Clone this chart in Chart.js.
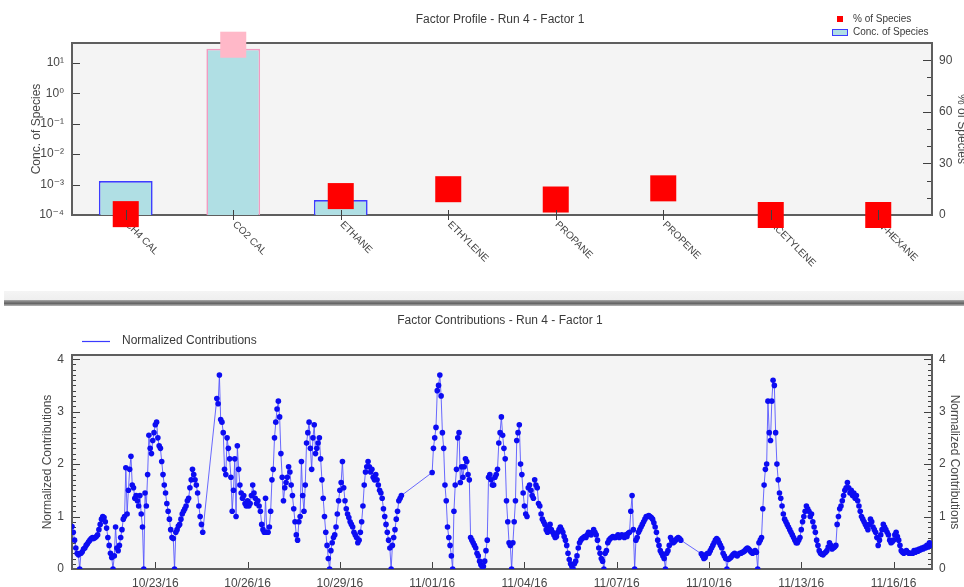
<!DOCTYPE html>
<html>
<head>
<meta charset="utf-8">
<title>Factor Profile / Factor Contributions - Run 4 - Factor 1</title>
<script src="https://cdn.jsdelivr.net/npm/chart.js@4.4.1/dist/chart.umd.min.js"></script>
<style>
  html, body { margin: 0; padding: 0; background: #fff; overflow: hidden; }
  #page { position: relative; width: 964px; height: 587px; overflow: hidden; }
  canvas { position: absolute; left: 0; }
  #profile { top: 0; }
  #contrib { top: 306px; }
  #divider {
    position: absolute; left: 4px; right: 0; top: 291px; height: 15px;
    background: linear-gradient(#f4f4f4 0px, #efefef 9px, #a9a9a9 9px, #7b7b7b 11px,
                                #666 12.5px, #8a8a8a 13.5px, #b8b8b8 15px);
  }
</style>
</head>
<body>
<div id="page">
  <canvas id="profile" width="964" height="290"></canvas>
  <div id="divider"></div>
  <canvas id="contrib" width="964" height="281"></canvas>
</div>
<script>
// ---------------- Factor profile (species) ----------------
const species = ['CH4 CAL', 'CO2 CAL', 'ETHANE', 'ETHYLENE', 'PROPANE', 'PROPENE', 'ACETYLENE', 'N-HEXANE'];
// concentration of each species in the factor (log axis, 1e-4 .. ~45)
const concOfSpecies = [1.3e-3, 29, 3.1e-4, 4e-5, 3e-5, 5e-5, 1e-5, 1e-5];
// share of each species' total mass apportioned to this factor (%)
const pctOfSpecies = [0.5, 99, 11, 15, 9, 15.5, 0, 0];
const concTicks = [1e-4, 1e-3, 1e-2, 1e-1, 1, 10];
const pctTicks = [0, 30, 60, 90];
const pctMinorTicks = [10, 20, 40, 50, 70, 80];

// ---------------- Factor contributions (time series) ----------------
// hourly samples; x = hours after 10/20/16 00:00, runs separated by data gaps
const sampleStepHours = 1;
const runStartHours = [7, 120, 288, 498];
const run1 = [0.81, 0.7, 0.55, 0.4, 0.3, 0.27, 0, 0.3, 0.33, 0.38,
              0.4, 0.45, 0.48, 0.52, 0.55, 0.58, 0.6, 0.58, 0.6, 0.62,
              0.65, 0.75, 0.85, 0.95, 1.0, 0.98, 0.9, 0.78, 0.6, 0.45,
              0.3, 0.22, 0, 0.25, 0.8, 0.4, 0.35, 0.45, 0.6, 0.75,
              0.95, 1.0, 1.93, 1.05, 1.5, 1.9, 2.15, 1.6, 1.55, 1.35,
              1.4, 1.3, 1.2, 1.4, 1.05, 0.8, 0, 1.45, 1.2, 1.8,
              2.55, 2.3, 2.2, 2.45, 2.6, 2.75, 2.8, 2.5, 2.35, 2.3,
              2.05, 1.8, 1.6, 1.45, 1.25, 1.1, 0.95, 0.75, 0.6, 0.58,
              0, 0.7, 0.75, 0.82, 0.85, 0.95, 1.05, 1.1, 1.15, 1.2,
              1.3, 1.35, 1.55, 1.7, 1.9, 1.8, 1.7, 1.6, 1.45, 1.2,
              1.0, 0.85, 0.7];
const run2 = [3.25, 3.15, 3.7, 2.85, 2.8, 2.6, 1.9, 1.8, 2.5, 2.3,
              2.1, 1.75, 1.1, 1.5, 2.1, 1.0, 2.35, 1.9, 1.6, 1.45,
              1.35, 1.4, 1.25, 1.2, 1.3, 1.2, 1.25, 1.4, 1.6, 1.45,
              1.35, 1.25, 1.3, 1.2, 1.1, 0.85, 0.75, 0.7, 1.35, 0.7,
              0.7, 0.8, 1.1, 1.7, 1.9, 2.5, 2.8, 3.05, 3.2, 2.9,
              2.2, 1.75, 1.3, 1.55, 1.65, 1.75, 1.95, 1.85, 1.6, 1.4,
              1.15, 0.9, 0.65, 0.55, 0.9, 1.0, 2.05, 1.4, 1.1, 1.6,
              2.4, 2.6, 2.8, 2.3, 1.9, 2.5, 2.75, 2.2, 2.3, 2.4,
              2.5, 2.1, 1.7, 1.35, 1.0, 0.7, 0.45, 0.2, 0, 0.35,
              0.5, 0.6, 0.65, 0.8, 1.05, 1.3, 1.5, 1.65, 2.05, 1.55,
              1.3, 1.15, 1.05, 0.98, 0.9, 0.85, 0.8, 0.7, 0.65, 0.6,
              0.5, 0.55, 0.7, 0.9, 1.2, 1.6, 1.85, 1.95, 2.05, 1.95,
              1.85, 1.9, 1.75, 1.7, 1.8, 1.7, 1.6, 1.5, 1.45, 1.35,
              1.15, 1.0, 0.85, 0.7, 0.55, 0.4, 0, 0.45, 0.6, 0.75,
              0.95, 1.1, 1.3, 1.35, 1.4];
const run3 = [1.84, 2.3, 2.5, 2.7, 3.4, 3.5, 3.7, 3.3, 2.6, 2.3,
              1.6, 1.3, 0.8, 0.6, 0.45, 0.25, 0, 1.1, 1.6, 1.9,
              2.5, 2.6, 1.65, 1.95, 1.75, 1.95, 2.1, 2.05, 1.8, 1.7,
              0.6, 0.55, 0.5, 0.45, 0.4, 0.3, 0.25, 0.15, 0.08, 0.05,
              0.05, 0.15, 0.35, 0.55, 1.75, 1.8, 1.7, 1.6, 1.6, 1.75,
              1.8, 1.9, 2.4, 2.6, 2.9, 2.55, 2.3, 2.1, 1.3, 0.9,
              0.5, 0.45, 0, 0.5, 0.9, 1.3, 2.45, 2.6, 2.75, 2.0,
              1.8, 1.45, 1.2, 1.05, 1.0, 1.55, 1.6, 1.5, 1.4, 1.35,
              1.7, 1.6, 1.55, 1.25, 1.2, 1.05, 0.95, 0.9, 0.85, 0.75,
              0.7, 0.8, 0.85, 0.75, 0.7, 0.65, 0.6, 0.62, 0.7, 0.75,
              0.8, 0.75, 0.7, 0.62, 0.55, 0.45, 0.3, 0.18, 0.1, 0.05,
              0, 0.1, 0.15, 0.25, 0.4, 0.5, 0.55, 0.58, 0.6, 0.62,
              0.6, 0.65, 0.7, 0.68, 0.65, 0.7, 0.75, 0.7, 0.65, 0.55,
              0.4, 0.3, 0.2, 0.15, 0, 0.3, 0.35, 0.5, 0.55, 0.58,
              0.6, 0.62, 0.6, 0.6, 0.62, 0.65, 0.6, 0.62, 0.65, 0.62,
              0.6, 0.65, 0.62, 0.68, 0.7, 1.1, 1.4, 0.75, 0, 0.55,
              0.6, 0.7, 0.75, 0.8, 0.85, 0.9, 0.95, 1.0, 1.0, 1.02,
              1.0, 0.98, 0.95, 0.88, 0.8, 0.7, 0.55, 0.45, 0.35, 0.3,
              0.25, 0.2, 0, 0.3, 0.35, 0.45, 0.6, 0.55, 0.5, 0.52,
              0.55, 0.58, 0.6, 0.58, 0.55];
const run4 = [0.29, 0.25, 0.2, 0.22, 0.28, 0.3, 0.3, 0.35, 0.4, 0.45,
              0.5, 0.55, 0.58, 0.55, 0.5, 0.45, 0.4, 0.3, 0.25, 0.2,
              0, 0.18, 0.2, 0.22, 0.25, 0.28, 0.3, 0.27, 0.25, 0.28,
              0.3, 0.3, 0.32, 0.33, 0.35, 0.38, 0.4, 0.38, 0.35, 0.32,
              0.3, 0.33, 0.35, 0.32, 0, 0.5, 0.55, 0.6, 1.15, 1.6,
              1.9, 2.0, 3.2, 2.6, 2.45, 3.2, 3.6, 3.5, 2.6, 2.0,
              1.7, 1.45, 1.35, 1.2, 1.05, 0.95, 0.9, 0.85, 0.8, 0.75,
              0.7, 0.65, 0.6, 0.55, 0.5, 0.5, 0.55, 0.6, 0.75, 0.9,
              1.0, 1.1, 1.2, 1.15, 1.1, 1.0, 1.05, 0.9, 0.8, 0.7,
              0.55, 0.45, 0.35, 0.3, 0.28, 0.27, 0.3, 0.32, 0.35, 0.42,
              0.5, 0.45, 0.38, 0.4, 0.42, 0.45, 0.85, 1.0, 1.15, 1.2,
              1.3, 1.4, 1.5, 1.55, 1.65, 1.55, 1.45, 1.5, 1.4, 1.45,
              1.35, 1.4, 1.3, 1.2, 1.1, 1.0, 0.95, 0.9, 0.85, 0.8,
              0.75, 0.85, 0.95, 0.9, 0.8, 0.75, 0.7, 0.6, 0.45, 0.55,
              0.65, 0.75, 0.85, 0.8, 0.75, 0.7, 0.65, 0.55, 0.5, 0.52,
              0.55, 0.65, 0.7, 0.62, 0.55, 0.45, 0.35, 0.32, 0.3, 0.33,
              0.35, 0.32, 0.3, 0.3, 0.3, 0.3, 0.35, 0.32, 0.36, 0.34,
              0.38, 0.36, 0.4, 0.38, 0.42, 0.4, 0.45, 0.42, 0.5, 0.47,
              0.45];
const runValues = [run1, run2, run3, run4];
const dateTickHours = [72, 144, 216, 288, 360, 432, 504, 576, 648];
const dateTickLabels = ['10/23/16', '10/26/16', '10/29/16', '11/01/16', '11/04/16',
                        '11/07/16', '11/10/16', '11/13/16', '11/16/16'];
const contribTicks = [0, 1, 2, 3, 4];

// ---------------- shared look ----------------
const fontFamily = '"Liberation Sans", Arial, "DejaVu Sans", sans-serif';
Chart.defaults.font.family = fontFamily;
Chart.defaults.font.size = 12;
Chart.defaults.color = '#474747';
const plotBg = '#f4f4f4';
const frameColor = '#5e5e5e';
const tickColor = '#404040';
const titleColor = '#3a3a3a';

const SUP = {'-': '\u207B', '0': '\u2070', '1': '\u00B9', '2': '\u00B2', '3': '\u00B3',
             '4': '\u2074', '5': '\u2075', '6': '\u2076', '7': '\u2077', '8': '\u2078', '9': '\u2079'};
function powerOfTen(v) {
  const e = String(Math.round(Math.log10(v)));
  return '10' + e.split('').map(c => SUP[c]).join('');
}

// plot background, inner tick marks and the box round the plot
function framePlugin(tickSpecs) {
  function drawTicks(chart, late) {
    const {ctx, chartArea: a} = chart;
    ctx.save();
    ctx.strokeStyle = tickColor;
    ctx.lineWidth = 1;
    ctx.beginPath();
    for (const s of tickSpecs) {
      if (!!s.late !== late) continue;
      const scale = chart.scales[s.axis];
      for (const v of s.values) {
        const p = Math.round(scale.getPixelForValue(v)) + 0.5;
        if (s.side === 'left') { ctx.moveTo(a.left, p); ctx.lineTo(a.left + s.len, p); }
        else if (s.side === 'right') { ctx.moveTo(a.right, p); ctx.lineTo(a.right - s.len, p); }
        else {
          ctx.moveTo(p, s.cross ? a.bottom + s.len : a.bottom);
          ctx.lineTo(p, a.bottom - s.len);
        }
      }
    }
    ctx.stroke();
    ctx.restore();
  }
  return {
    id: 'plotFrame',
    beforeDraw(chart) {
      const {ctx, chartArea: a} = chart;
      ctx.save();
      ctx.fillStyle = plotBg;
      ctx.fillRect(a.left, a.top, a.right - a.left, a.bottom - a.top);
      ctx.restore();
    },
    beforeDatasetsDraw(chart) {
      const {ctx, chartArea: a} = chart;
      drawTicks(chart, false);
      ctx.save();
      ctx.strokeStyle = frameColor;
      ctx.lineWidth = 2;
      ctx.strokeRect(a.left, a.top, a.right - a.left, a.bottom - a.top);
      ctx.restore();
    },
    afterDatasetsDraw(chart) { drawTicks(chart, true); }
  };
}

// panel title and legend entries
function captionPlugin(cfg) {
  return {
    id: 'caption',
    afterDraw(chart) {
      const ctx = chart.ctx;
      ctx.save();
      ctx.fillStyle = titleColor;
      ctx.font = cfg.titleSize + 'px ' + fontFamily;
      ctx.textAlign = 'center';
      ctx.textBaseline = 'middle';
      ctx.fillText(cfg.title, cfg.titleX, cfg.titleY);
      ctx.textAlign = 'left';
      for (const item of cfg.legend) {
        const ds = chart.data.datasets[item.dataset];
        if (item.marker === 'square') {
          ctx.fillStyle = ds.legendColor;
          ctx.fillRect(item.x - 3, item.y - 3, 6, 6);
        } else if (item.marker === 'box') {
          ctx.fillStyle = ds.backgroundColor;
          ctx.fillRect(item.x - 8, item.y - 3, 16, 6);
          ctx.strokeStyle = ds.legendColor;
          ctx.lineWidth = 1;
          ctx.strokeRect(item.x - 8 + 0.5, item.y - 3 + 0.5, 15, 6);
        } else {
          ctx.strokeStyle = ds.legendColor;
          ctx.lineWidth = 1.2;
          ctx.beginPath();
          ctx.moveTo(item.x - 14, item.y + 0.5);
          ctx.lineTo(item.x + 14, item.y + 0.5);
          ctx.stroke();
        }
        ctx.fillStyle = titleColor;
        ctx.font = item.size + 'px ' + fontFamily;
        ctx.fillText(ds.label, item.textX, item.y);
      }
      ctx.restore();
    }
  };
}

// species names slanted down to the right under each category tick
const slantedSpecies = {
  id: 'slantedSpecies',
  beforeDatasetsDraw(chart) {
    const {ctx, chartArea: a} = chart;
    const xs = chart.scales.x;
    ctx.save();
    ctx.fillStyle = '#444';
    ctx.font = '10px ' + fontFamily;
    ctx.textAlign = 'left';
    ctx.textBaseline = 'middle';
    chart.data.labels.forEach((name, i) => {
      ctx.save();
      ctx.translate(xs.getPixelForValue(i) + 1, a.bottom + 8);
      ctx.rotate(Math.PI / 4);
      ctx.fillText(name, 0, 0);
      ctx.restore();
    });
    ctx.restore();
  }
};

const red = '#ff0000';
const pink = '#ffb8c8';
const barBlue = '#3c3cff';
const barPink = '#f29ac0';

new Chart(document.getElementById('profile'), {
  type: 'bar',
  data: {
    labels: species,
    datasets: [
      {
        type: 'line',
        label: '% of Species',
        data: pctOfSpecies,
        yAxisID: 'yPct',
        showLine: false,
        pointStyle: 'rect',
        pointRadius: 18.4,
        pointHoverRadius: 18.4,
        pointBorderWidth: 0,
        pointBackgroundColor: species.map((s, i) => i === 1 ? pink : red),
        legendColor: red,
        clip: false,
        order: 0
      },
      {
        type: 'bar',
        label: 'Conc. of Species',
        data: concOfSpecies,
        yAxisID: 'yConc',
        backgroundColor: '#b0dfe4',
        borderColor: species.map((s, i) => i === 1 ? barPink : barBlue),
        legendColor: barBlue,
        borderWidth: 1.6,
        barPercentage: 0.5,
        categoryPercentage: 1,
        clip: 0,
        order: 1
      }
    ]
  },
  options: {
    responsive: false,
    animation: false,
    events: [],
    layout: {padding: {top: 43, left: 0, right: 0, bottom: 0}},
    plugins: {legend: {display: false}, title: {display: false}, tooltip: {enabled: false}},
    scales: {
      x: {
        type: 'category',
        offset: true,
        grid: {display: false, drawTicks: false},
        border: {display: false},
        ticks: {display: false},
        afterFit: s => { s.height = 75; }
      },
      yConc: {
        type: 'logarithmic',
        position: 'left',
        min: 1e-4,
        max: 45,
        grid: {display: false, drawTicks: false},
        border: {display: false},
        afterBuildTicks: s => { s.ticks = concTicks.map(v => ({value: v})); },
        ticks: {callback: v => powerOfTen(v), padding: 8, autoSkip: false},
        title: {display: true, text: 'Conc. of Species', color: '#474747',
                font: {size: 12}, padding: {top: 29, bottom: 0}},
        afterFit: s => { s.width = 72; }
      },
      yPct: {
        type: 'linear',
        position: 'right',
        min: 0,
        max: 100,
        grid: {display: false, drawTicks: false},
        border: {display: false},
        afterBuildTicks: s => { s.ticks = pctTicks.map(v => ({value: v})); },
        ticks: {padding: 7, autoSkip: false},
        title: {display: true, text: '% of Species', color: '#474747',
                font: {size: 12}, padding: {top: -5, bottom: 0}},
        afterFit: s => { s.width = 32; }
      }
    }
  },
  plugins: [
    framePlugin([
      {axis: 'yConc', side: 'left', values: concTicks, len: 8},
      {axis: 'yPct', side: 'right', values: pctTicks, len: 9},
      {axis: 'yPct', side: 'right', values: pctMinorTicks, len: 5},
      {axis: 'x', side: 'bottom', values: species.map((s, i) => i), len: 5, cross: true, late: true}
    ]),
    slantedSpecies,
    captionPlugin({
      title: 'Factor Profile - Run 4 - Factor 1', titleX: 500, titleY: 20, titleSize: 12,
      legend: [
        {dataset: 0, marker: 'square', x: 840, y: 19, textX: 853, size: 10},
        {dataset: 1, marker: 'box', x: 840, y: 32, textX: 853, size: 10}
      ]
    })
  ]
});

// ---------------- contributions chart ----------------
const contribPoints = [];
runValues.forEach((vals, r) => {
  vals.forEach((v, i) => contribPoints.push({x: runStartHours[r] + i * sampleStepHours, y: v}));
});
const contribMinor = [];
for (let k = 1; k < 41; k++) if (k % 10) contribMinor.push(k / 10);

new Chart(document.getElementById('contrib'), {
  type: 'line',
  data: {
    datasets: [{
      label: 'Normalized Contributions',
      data: contribPoints,
      borderColor: 'rgba(80,80,255,0.85)',
      legendColor: '#3b3bff',
      borderWidth: 1,
      pointRadius: 2.8,
      pointHoverRadius: 2.8,
      pointBorderWidth: 0,
      pointBackgroundColor: '#0c0cf2',
      tension: 0,
      yAxisID: 'y'
    }]
  },
  options: {
    responsive: false,
    animation: false,
    events: [],
    layout: {padding: {top: 49, left: 0, right: 0, bottom: 0}},
    plugins: {legend: {display: false}, title: {display: false}, tooltip: {enabled: false}},
    scales: {
      x: {
        type: 'linear',
        min: 7,
        max: 678,
        grid: {display: false, drawTicks: false},
        border: {display: false},
        afterBuildTicks: s => { s.ticks = dateTickHours.map(v => ({value: v})); },
        ticks: {
          callback: v => dateTickLabels[dateTickHours.indexOf(v)],
          padding: 7, maxRotation: 0, minRotation: 0, autoSkip: false
        },
        afterFit: s => { s.height = 18; }
      },
      y: {
        type: 'linear',
        position: 'left',
        min: 0,
        max: 4.08,
        grid: {display: false, drawTicks: false},
        border: {display: false},
        afterBuildTicks: s => { s.ticks = contribTicks.map(v => ({value: v})); },
        ticks: {padding: 8, autoSkip: false},
        title: {display: true, text: 'Normalized Contributions', color: '#474747',
                font: {size: 12}, padding: {top: 40, bottom: 0}},
        afterFit: s => { s.width = 72; }
      },
      y2: {
        type: 'linear',
        position: 'right',
        min: 0,
        max: 4.08,
        grid: {display: false, drawTicks: false},
        border: {display: false},
        afterBuildTicks: s => { s.ticks = contribTicks.map(v => ({value: v})); },
        ticks: {padding: 7, autoSkip: false},
        title: {display: true, text: 'Normalized Contributions', color: '#474747',
                font: {size: 12}, padding: {top: 2, bottom: 0}},
        afterFit: s => { s.width = 32; }
      }
    }
  },
  plugins: [
    framePlugin([
      {axis: 'x', side: 'bottom', values: dateTickHours, len: 7},
      {axis: 'y', side: 'left', values: contribTicks, len: 8},
      {axis: 'y', side: 'left', values: contribMinor, len: 4},
      {axis: 'y2', side: 'right', values: contribTicks, len: 8},
      {axis: 'y2', side: 'right', values: contribMinor, len: 4}
    ]),
    captionPlugin({
      title: 'Factor Contributions - Run 4 - Factor 1', titleX: 500, titleY: 15, titleSize: 12,
      legend: [
        {dataset: 0, marker: 'line', x: 96, y: 35, textX: 122, size: 12}
      ]
    })
  ]
});
</script>
</body>
</html>
